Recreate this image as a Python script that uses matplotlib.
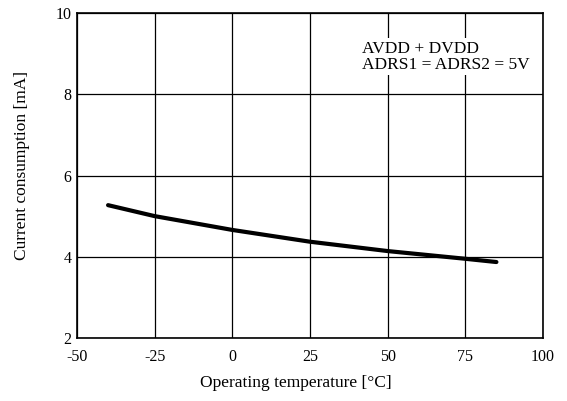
import matplotlib
matplotlib.use("Agg")
import matplotlib.pyplot as plt

temp = [-40, -25, 0, 25, 50, 75, 85]
current = [5.27, 5.00, 4.66, 4.37, 4.14, 3.95, 3.87]

x_ticks = [-50, -25, 0, 25, 50, 75, 100]
y_ticks = [2, 4, 6, 8, 10]

plt.rcParams["font.family"] = ["Liberation Serif", "DejaVu Serif"]
plt.rcParams["axes.unicode_minus"] = False

fig = plt.figure(figsize=(5.67, 4.01), dpi=100)
ax = fig.add_axes([77 / 567, 1 - 338 / 401, (543 - 77) / 567, (338 - 13) / 401])

ax.plot(temp, current, color="black", lw=3.0, solid_capstyle="round")

ax.set_xlim(-50, 100)
ax.set_ylim(2, 10)
ax.set_xticks(x_ticks)
ax.set_yticks(y_ticks)
ax.tick_params(labelsize=11.5, length=0)
ax.tick_params(axis="x", pad=8)
ax.tick_params(axis="y", pad=4)
ax.grid(True, color="black", lw=0.9)
for s in ax.spines.values():
    s.set_linewidth(1.2)

ax.set_xlabel("Operating temperature [°C]", fontsize=12.5, va="center")
ax.xaxis.set_label_coords(0.469, -0.138)
ax.set_ylabel("Current consumption [mA]", fontsize=12.5, va="center")
ax.yaxis.set_label_coords(-0.118, 0.532)

ax.text(0.611, 0.866, "AVDD + DVDD\nADRS1 = ADRS2 = 5V", transform=ax.transAxes,
        fontsize=12.5, va="center", ha="left", linespacing=1.0,
        bbox=dict(facecolor="white", edgecolor="none", pad=1.5))

fig.savefig("out.png", dpi=100)
